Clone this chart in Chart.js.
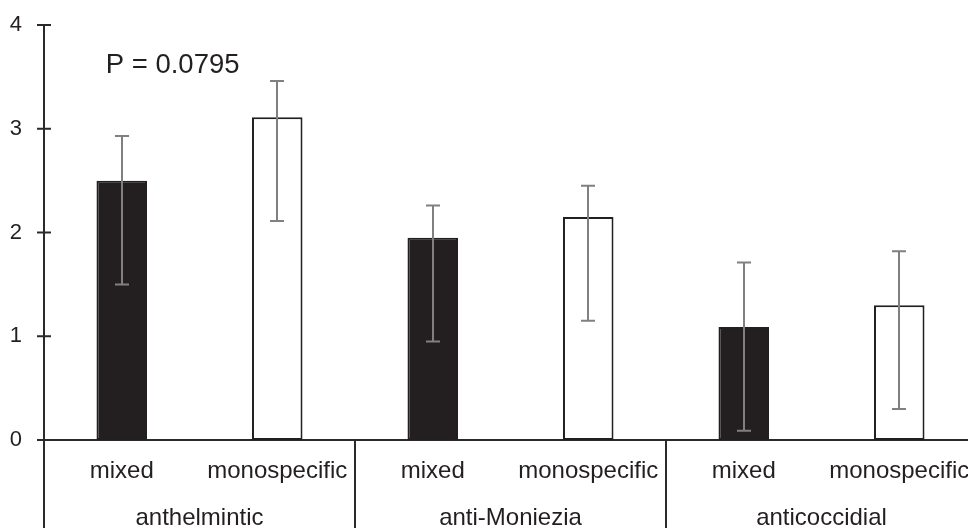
<!DOCTYPE html>
<html>
<head>
<meta charset="utf-8">
<script src="https://cdn.jsdelivr.net/npm/chart.js@4"></script>
<style>
  html, body { margin: 0; padding: 0; background: #fff; overflow: hidden; }
  #wrap { width: 968px; height: 528px; overflow: hidden; position: relative; }
  canvas { display: block; }
</style>
</head>
<body>
<div id="wrap"><canvas id="c" width="980" height="528"></canvas></div>
<script>
// Treatment groups and the two farm types within each
const groups = ['anthelmintic', 'anti-Moniezia', 'anticoccidial'];
const farmTypes = ['mixed', 'monospecific', 'mixed', 'monospecific', 'mixed', 'monospecific'];
// Mean number of treatments per year, with upper / lower error extents
const means = [2.50, 3.11, 1.95, 2.15, 1.09, 1.30];
const errUp = [0.43, 0.35, 0.31, 0.30, 0.62, 0.52];
const errDown = [1.00, 1.00, 1.00, 1.00, 1.00, 1.00];
const yTicks = [0, 1, 2, 3, 4];
const pLabel = 'P = 0.0795';

const INK = '#231f20';
const AXIS = '#2a2a2a';
const FONT = "'Liberation Sans', Arial, sans-serif";

// Tick marks crossing the value axis, axis extension below the baseline,
// group separators, error bars and the P-value note.
const decorations = {
  id: 'decorations',
  afterDatasetsDraw(chart) {
    const { ctx, scales: { x, y } } = chart;
    ctx.save();
    // error bars
    const meta = chart.getDatasetMeta(0);
    ctx.strokeStyle = '#808080';
    ctx.lineWidth = 2;
    meta.data.forEach((bar, i) => {
      const cx = Math.round(bar.x);
      const top = y.getPixelForValue(means[i] + errUp[i]);
      const bot = y.getPixelForValue(means[i] - errDown[i]);
      ctx.beginPath();
      ctx.moveTo(cx, top); ctx.lineTo(cx, bot);
      ctx.moveTo(cx - 7, top); ctx.lineTo(cx + 7, top);
      ctx.moveTo(cx - 7, bot); ctx.lineTo(cx + 7, bot);
      ctx.stroke();
    });
    // y tick marks crossing the axis
    ctx.strokeStyle = AXIS;
    ctx.lineWidth = 2;
    yTicks.forEach(v => {
      const py = y.getPixelForValue(v);
      ctx.beginPath();
      ctx.moveTo(x.left - 7, py); ctx.lineTo(x.left + 7, py);
      ctx.stroke();
    });
    // group boundaries below the baseline
    const base = y.getPixelForValue(0);
    const bottom = chart.height;
    const bounds = [];
    for (let g = 0; g <= groups.length; g++) {
      const i = g * 2;
      let px;
      if (i === 0) px = x.left;
      else if (i >= farmTypes.length) px = x.right;
      else px = (x.getPixelForValue(i - 1) + x.getPixelForValue(i)) / 2;
      bounds.push(px);
    }
    bounds.forEach(px => {
      ctx.beginPath();
      ctx.moveTo(Math.round(px), base); ctx.lineTo(Math.round(px), bottom);
      ctx.stroke();
    });
    // P-value note
    ctx.fillStyle = INK;
    ctx.font = '27.5px ' + FONT;
    ctx.textAlign = 'left';
    ctx.textBaseline = 'alphabetic';
    ctx.fillText(pLabel, x.getPixelForValue(0) - 16, y.getPixelForValue(3.55) + 1);
    ctx.restore();
  }
};

new Chart(document.getElementById('c'), {
  type: 'bar',
  data: {
    labels: farmTypes,
    datasets: [{
      data: means,
      backgroundColor: means.map((_, i) => i % 2 === 0 ? INK : '#ffffff'),
      borderColor: INK,
      borderWidth: 2,
      borderSkipped: false,
      barPercentage: 0.325,
      categoryPercentage: 1
    }]
  },
  options: {
    responsive: false,
    animation: false,
    devicePixelRatio: 1,
    layout: { padding: { top: 25, right: 3, left: 0, bottom: 0 } },
    plugins: { legend: { display: false }, tooltip: { enabled: false } },
    scales: {
      y: {
        min: 0, max: 4,
        afterBuildTicks: s => { s.ticks = yTicks.map(v => ({ value: v })); },
        afterFit: s => { s.width = 44; s.paddingTop = 0; s.paddingBottom = 0; },
        grid: { display: false, drawTicks: false },
        border: { display: true, color: AXIS, width: 2 },
        ticks: { padding: 22, color: INK, font: { family: FONT, size: 22 } }
      },
      x: {
        offset: true,
        afterFit: s => { s.height = 45; s.paddingLeft = 0; s.paddingRight = 0; },
        grid: { display: false, drawTicks: false },
        border: { display: true, color: AXIS, width: 2 },
        ticks: { padding: 17, color: INK, autoSkip: false, maxRotation: 0, font: { family: FONT, size: 24 } }
      },
      x2: {
        type: 'category',
        position: 'bottom',
        labels: groups,
        offset: true,
        afterFit: s => { s.height = 43; s.paddingLeft = 0; s.paddingRight = 0; },
        grid: { display: false, drawTicks: false },
        border: { display: false },
        ticks: { padding: 19, color: INK, autoSkip: false, maxRotation: 0, font: { family: FONT, size: 24 } }
      }
    }
  },
  plugins: [decorations]
});
</script>
</body>
</html>
